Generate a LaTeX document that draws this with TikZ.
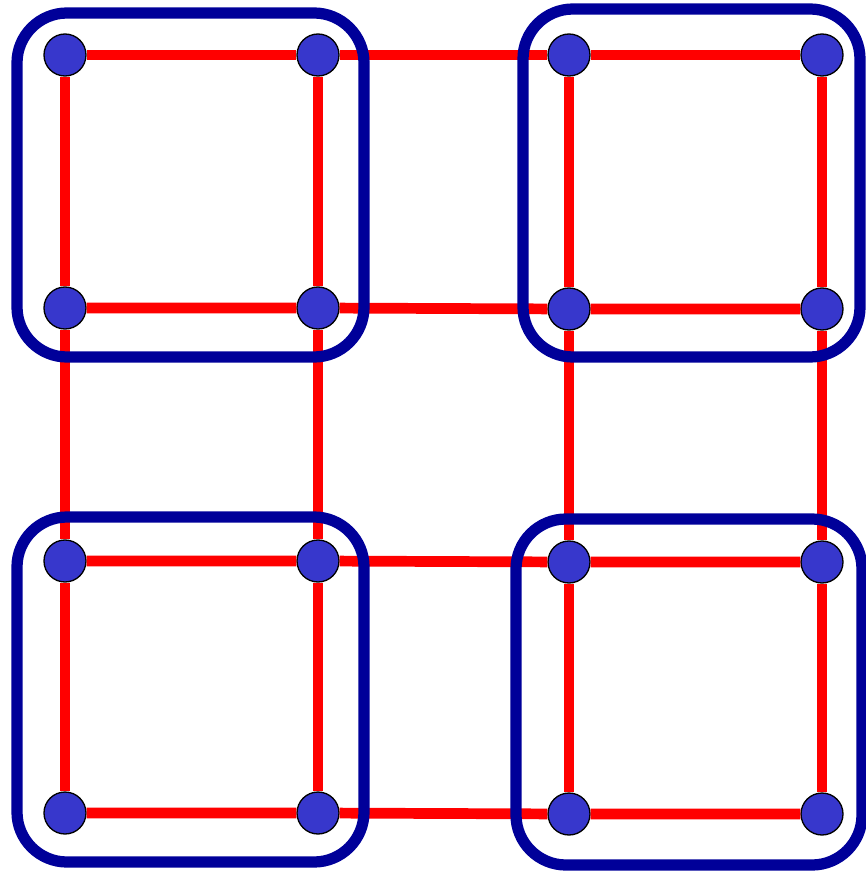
\documentclass[tikz,border=0pt]{standalone}
\usepackage{tikz}
\definecolor{edgered}{RGB}{255,0,0}
\definecolor{boxblue}{RGB}{0,0,153}
\definecolor{vertblue}{RGB}{55,55,204}
\tikzset{
  vert/.style={circle, draw=black, line width=0.75pt, fill=vertblue, minimum size=0.84cm, inner sep=0pt},
  edge/.style={draw=edgered, line width=6.1pt},
  group/.style={draw=boxblue, line width=6.4pt, rounded corners=1cm}
}

\begin{document}
\begin{tikzpicture}[x=0.02cm, y=-0.02cm]
        \useasboundingbox (0,0) rectangle (865,871);

        % Nodes
        \node[vert] (n11) at (65, 55) {};
        \node[vert] (n12) at (318, 55) {};
        \node[vert] (n13) at (569, 55) {};
        \node[vert] (n14) at (822, 55) {};
        \node[vert] (n21) at (65, 308) {};
        \node[vert] (n22) at (318, 308) {};
        \node[vert] (n23) at (569, 309) {};
        \node[vert] (n24) at (822, 309) {};
        \node[vert] (n31) at (65, 561) {};
        \node[vert] (n32) at (318, 561) {};
        \node[vert] (n33) at (569, 562) {};
        \node[vert] (n34) at (822, 562) {};
        \node[vert] (n41) at (65, 813) {};
        \node[vert] (n42) at (318, 813) {};
        \node[vert] (n43) at (569, 814) {};
        \node[vert] (n44) at (822, 814) {};

        % Horizontal edges
        \draw[edge] (n11) -- (n12) -- (n13) -- (n14);
        \draw[edge] (n21) -- (n22) -- (n23) -- (n24);
        \draw[edge] (n31) -- (n32) -- (n33) -- (n34);
        \draw[edge] (n41) -- (n42) -- (n43) -- (n44);

        % Vertical edges
        \draw[edge] (n11) -- (n21) -- (n31) -- (n41);
        \draw[edge] (n12) -- (n22) -- (n32) -- (n42);
        \draw[edge] (n13) -- (n23) -- (n33) -- (n43);
        \draw[edge] (n14) -- (n24) -- (n34) -- (n44);

        % Groups
        \draw[group] (17, 13) rectangle (364, 357);
        \draw[group] (523, 9) rectangle (860, 357);
        \draw[group] (17, 517) rectangle (364, 862);
        \draw[group] (516, 519) rectangle (862, 865);
\end{tikzpicture}
\end{document}
